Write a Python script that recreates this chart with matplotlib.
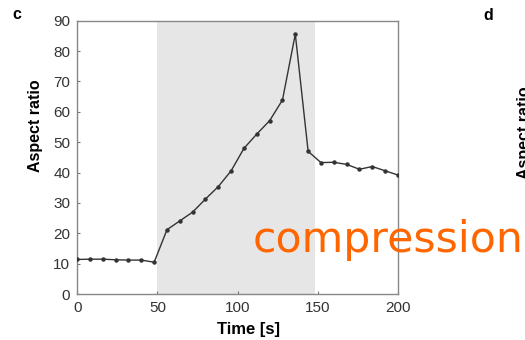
import numpy as np
import matplotlib
matplotlib.use('Agg')
import matplotlib.pyplot as plt

plt.rcParams['font.family'] = ['Liberation Sans', 'DejaVu Sans']

# data (time step 8 s)
time_s = np.arange(0, 201, 8)
aspect = [11.4, 11.5, 11.5, 11.3, 11.2, 11.2, 10.5, 21.2, 24.1, 27.0, 31.3, 35.4, 40.6,
          48.0, 52.7, 57.1, 63.9, 85.6, 47.0, 43.3, 43.4, 42.7, 41.1, 42.0, 40.6, 39.2]
shade_span = [50, 148]
x_ticks = [0, 50, 100, 150, 200]
y_ticks = [0, 10, 20, 30, 40, 50, 60, 70, 80, 90]

fig = plt.figure(figsize=(5.25, 3.40), dpi=100)
ax = fig.add_axes([0.147, 0.135, 0.611, 0.804])

ax.axvspan(shade_span[0], shade_span[1], color='#e6e6e6', lw=0, zorder=0)
ax.plot(time_s, aspect, color='#333333', lw=1.0, marker='o', ms=2.2, zorder=3)

ax.set_xlim(0, 200)
ax.set_ylim(0, 90)
ax.set_xticks(x_ticks)
ax.set_yticks(y_ticks)
ax.tick_params(direction='in', length=2, width=0.8, color='#777777',
               labelsize=11, labelcolor='#333333', pad=5)
for s in ax.spines.values():
    s.set_color('#888888')
    s.set_linewidth(1.0)

fig.text(0.067, 0.63, 'Aspect ratio', rotation=90, ha='center', va='center',
         fontsize=11.5, fontweight='bold')
fig.text(0.474, 0.032, 'Time [s]', ha='center', va='center', fontsize=12, fontweight='bold')
fig.text(0.032, 0.957, 'c', ha='center', va='center', fontsize=11.5, fontweight='bold')
fig.text(0.93, 0.953, 'd', ha='center', va='center', fontsize=11.5, fontweight='bold')
fig.text(1.0, 0.61, 'Aspect ratio', rotation=90, ha='center', va='center',
         fontsize=11.5, fontweight='bold')

fig.text(0.482, 0.295, 'compression', color='#ff6600', fontsize=30.7,
         family='DejaVu Sans', ha='left', va='center')

fig.savefig('out.png', dpi=100)
